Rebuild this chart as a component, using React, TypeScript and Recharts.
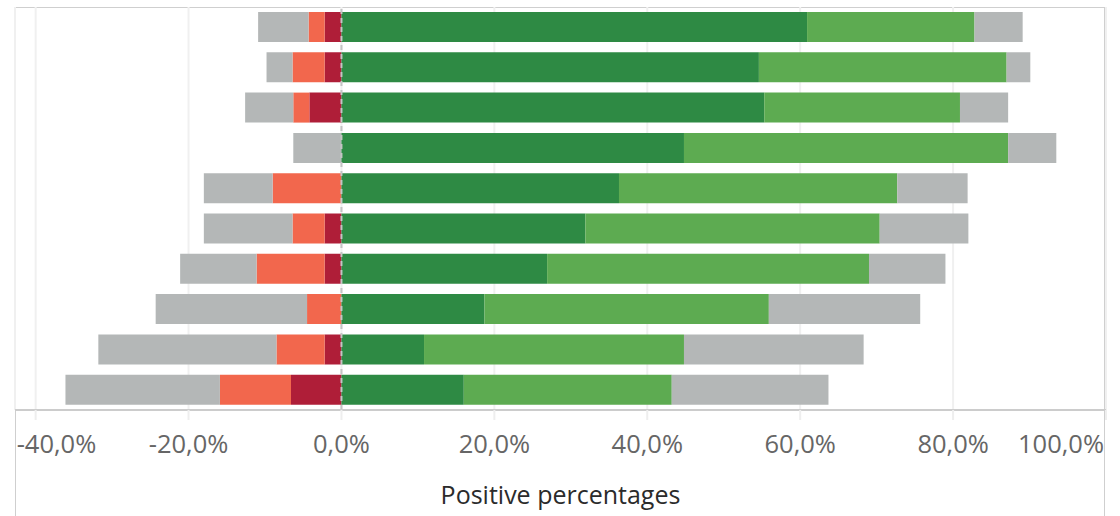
import { Bar, BarChart, CartesianGrid, ReferenceLine, XAxis, YAxis } from "recharts";

// rows, top to bottom (no labels shown on the chart)
const rows = ["Q1", "Q2", "Q3", "Q4", "Q5", "Q6", "Q7", "Q8", "Q9", "Q10"];

// left side of zero (shares, drawn as negatives)
const stronglyNegative = [2.2, 2.2, 4.2, 0, 0, 2.2, 2.2, 0, 2.2, 6.6];
const negative = [2.1, 4.2, 2.1, 0, 9.0, 4.2, 8.9, 4.5, 6.3, 9.3];
const neutralLeft = [6.6, 3.4, 6.3, 6.3, 9.0, 11.6, 10.0, 19.8, 23.3, 20.2];

// right side of zero
const stronglyPositive = [60.9, 54.6, 55.3, 44.8, 36.3, 31.9, 26.9, 18.7, 10.8, 16.0];
const positive = [21.9, 32.4, 25.6, 42.4, 36.4, 38.5, 42.1, 37.2, 34.0, 27.2];
const neutralRight = [6.3, 3.1, 6.3, 6.3, 9.2, 11.6, 10.0, 19.8, 23.5, 20.5];

const xTicks = [-40, -20, 0, 20, 40, 60, 80, 100];

const data = rows.map((row, i) => ({
  row,
  sneg: -stronglyNegative[i],
  neg: -negative[i],
  neuL: -neutralLeft[i],
  spos: stronglyPositive[i],
  pos: positive[i],
  neuR: neutralRight[i],
}));

const FONT = "'Open Sans', 'DejaVu Sans', sans-serif";
const fmt = (v: number) => `${v.toFixed(1).replace(".", ",")}%`;

function Tick(props: any) {
  const { x, y, payload, index } = props;
  let anchor = "middle";
  let dx = 0;
  if (index === 0) {
    anchor = "start";
    dx = -19;
  } else if (index === xTicks.length - 1) {
    anchor = "end";
    dx = -2;
  }
  return (
    <text x={x + dx} y={y + 31} textAnchor={anchor} fill="#666" fontSize={25.5} fontFamily={FONT}>
      {fmt(payload.value)}
    </text>
  );
}

export default function App() {
  return (
    <div style={{ position: "absolute", left: 0, top: 0, width: 1120, height: 516, background: "#fff" }}>
      <div
        style={{
          position: "absolute",
          left: 15,
          top: 7,
          width: 1090,
          height: 520,
          borderTop: "1px solid #cfcfcf",
          borderLeft: "1px solid #cfcfcf",
          borderRight: "1px solid #cfcfcf",
          boxSizing: "border-box",
        }}
      />
      <BarChart
        width={1120}
        height={516}
        data={data}
        layout="vertical"
        stackOffset="sign"
        margin={{ top: 7, right: 14, left: 15, bottom: 0 }}
        barSize={30}
      >
        <CartesianGrid horizontal={false} stroke="#f0f0f0" strokeWidth={2} />
        <XAxis
          type="number"
          domain={[-42.7, 100]}
          ticks={xTicks}
          interval={0}
          allowDataOverflow
          height={106}
          axisLine={{ stroke: "#cccccc", strokeWidth: 2 }}
          tickLine={{ stroke: "#eeeeee", strokeWidth: 2 }}
          tickSize={10}
          tick={<Tick />}
          label={{
            value: "Positive percentages",
            position: "insideBottom",
            offset: 12,
            fill: "#2b2b2b",
            fontSize: 25,
            fontFamily: FONT,
          }}
        />
        <YAxis type="category" dataKey="row" hide />
        <Bar dataKey="sneg" stackId="a" fill="#af1e38" isAnimationActive={false} />
        <Bar dataKey="neg" stackId="a" fill="#f2674d" isAnimationActive={false} />
        <Bar dataKey="neuL" stackId="a" fill="#b4b7b7" isAnimationActive={false} />
        <Bar dataKey="spos" stackId="a" fill="#2e8a44" isAnimationActive={false} />
        <Bar dataKey="pos" stackId="a" fill="#5dab51" isAnimationActive={false} />
        <Bar dataKey="neuR" stackId="a" fill="#b4b7b7" isAnimationActive={false} />
        <ReferenceLine x={0} stroke="#c4c4c4" strokeWidth={2} strokeDasharray="5 4" />
      </BarChart>
    </div>
  );
}
